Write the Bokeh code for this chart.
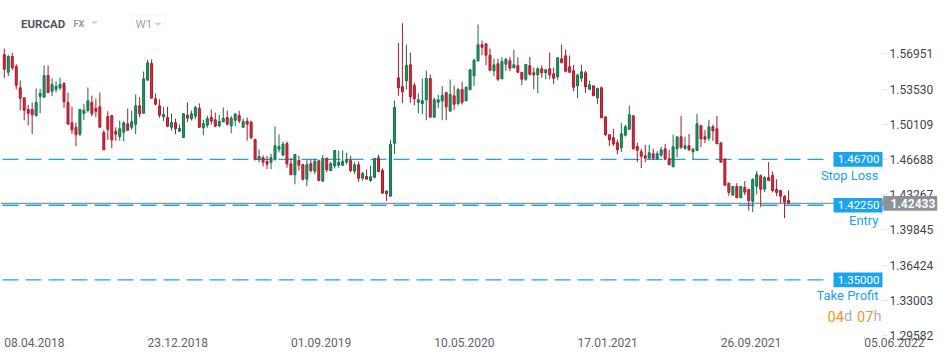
import pandas as pd
from bokeh.plotting import figure
from bokeh.models import (Range1d, FixedTicker, NumeralTickFormatter,
                          Label, ColumnDataSource, BoxAnnotation, PolyAnnotation)
from bokeh.embed import file_html
from bokeh.resources import INLINE

# ---------------- data ----------------
symbol = "EURCAD"
market = "FX"
interval = "W1"

opens = [1.5688, 1.5516, 1.5669, 1.5572, 1.5365, 1.5268, 1.5154, 1.5154, 1.5093, 1.5283,
         1.5274, 1.5484, 1.5332, 1.5351, 1.5365, 1.5407, 1.5222, 1.5025, 1.4980, 1.4915,
         1.5118, 1.5145, 1.5222, 1.5164, 1.5181, 1.4931, 1.5086, 1.5096, 1.4941, 1.4892,
         1.4934, 1.5015, 1.4982, 1.5012, 1.5190, 1.5118, 1.5439, 1.5601, 1.5258, 1.5190,
         1.5083, 1.5077, 1.4982, 1.5025, 1.4944, 1.4883, 1.5099, 1.5064, 1.5089, 1.5164,
         1.4977, 1.5002, 1.5077, 1.5054, 1.4996, 1.5035, 1.5077, 1.4996, 1.5050, 1.5096,
         1.4982, 1.5041, 1.5031, 1.4863, 1.4666, 1.4686, 1.4650, 1.4643, 1.4666, 1.4769,
         1.4711, 1.4824, 1.4627, 1.4521, 1.4659, 1.4618, 1.4478, 1.4627, 1.4556, 1.4656,
         1.4459, 1.4682, 1.4562, 1.4608, 1.4614, 1.4614, 1.4643, 1.4659, 1.4556, 1.4618,
         1.4488, 1.4504, 1.4465, 1.4497, 1.4686, 1.4562, 1.4361, 1.4313, 1.4827, 1.5462,
         1.5378, 1.5433, 1.5588, 1.5387, 1.5225, 1.5213, 1.5248, 1.5455, 1.5080, 1.5225,
         1.5239, 1.5317, 1.5138, 1.5287, 1.5213, 1.5348, 1.5239, 1.5346, 1.5482, 1.5627,
         1.5783, 1.5792, 1.5682, 1.5530, 1.5598, 1.5452, 1.5594, 1.5627, 1.5559, 1.5579,
         1.5516, 1.5448, 1.5579, 1.5511, 1.5491, 1.5549, 1.5511, 1.5549, 1.5501, 1.5472,
         1.5647, 1.5676, 1.5569, 1.5530, 1.5384, 1.5458, 1.5511, 1.5351, 1.5384, 1.5268,
         1.5365, 1.5083, 1.4909, 1.4880, 1.4831, 1.4783, 1.4905, 1.4963, 1.5093, 1.4795,
         1.4744, 1.4705, 1.4682, 1.4724, 1.4676, 1.4711, 1.4773, 1.4676, 1.4598, 1.4773,
         1.4889, 1.4779, 1.4802, 1.4744, 1.4756, 1.4996, 1.4889, 1.4876, 1.4986, 1.4967,
         1.4831, 1.4672, 1.4439, 1.4323, 1.4407, 1.4297, 1.4397, 1.4378, 1.4262, 1.4410,
         1.4511, 1.4381, 1.4494, 1.4514, 1.4378, 1.4368, 1.4310, 1.4272]

highs = [1.5747, 1.5685, 1.5705, 1.5594, 1.5436, 1.5268, 1.5200, 1.5222, 1.5358, 1.5355,
         1.5582, 1.5582, 1.5455, 1.5429, 1.5465, 1.5419, 1.5319, 1.5183, 1.5028, 1.5157,
         1.5210, 1.5368, 1.5290, 1.5261, 1.5319, 1.4957, 1.5138, 1.5096, 1.4982, 1.5047,
         1.5041, 1.5164, 1.5145, 1.5300, 1.5274, 1.5523, 1.5637, 1.5640, 1.5310, 1.5254,
         1.5181, 1.5181, 1.5115, 1.5067, 1.5009, 1.5115, 1.5222, 1.5145, 1.5190, 1.5213,
         1.5054, 1.5093, 1.5154, 1.5125, 1.5103, 1.5174, 1.5142, 1.5093, 1.5122, 1.5142,
         1.5067, 1.5077, 1.5045, 1.4870, 1.4766, 1.4708, 1.4705, 1.4724, 1.4989, 1.4912,
         1.4844, 1.4844, 1.4686, 1.4718, 1.4708, 1.4627, 1.4666, 1.4669, 1.4676, 1.4669,
         1.4711, 1.4686, 1.4647, 1.4763, 1.4756, 1.4756, 1.4737, 1.4705, 1.4643, 1.4650,
         1.4546, 1.4572, 1.4608, 1.4679, 1.4715, 1.4582, 1.4368, 1.4860, 1.5242, 1.5802,
         1.5992, 1.5785, 1.5708, 1.5416, 1.5310, 1.5455, 1.5533, 1.5494, 1.5271, 1.5297,
         1.5381, 1.5329, 1.5446, 1.5387, 1.5365, 1.5426, 1.5381, 1.5540, 1.5647, 1.5980,
         1.5824, 1.5792, 1.5747, 1.5649, 1.5649, 1.5662, 1.5656, 1.5666, 1.5737, 1.5662,
         1.5516, 1.5598, 1.5666, 1.5562, 1.5565, 1.5582, 1.5540, 1.5708, 1.5562, 1.5662,
         1.5785, 1.5737, 1.5679, 1.5588, 1.5504, 1.5588, 1.5530, 1.5433, 1.5384, 1.5368,
         1.5378, 1.5083, 1.4909, 1.4967, 1.4863, 1.5025, 1.5006, 1.5193, 1.5093, 1.4831,
         1.4773, 1.4812, 1.4812, 1.4773, 1.4750, 1.4792, 1.4821, 1.4763, 1.4909, 1.4889,
         1.5093, 1.4889, 1.4918, 1.4783, 1.5113, 1.5006, 1.4957, 1.5054, 1.5006, 1.5093,
         1.4831, 1.4682, 1.4439, 1.4407, 1.4439, 1.4407, 1.4459, 1.4378, 1.4487, 1.4556,
         1.4524, 1.4507, 1.4643, 1.4553, 1.4478, 1.4371, 1.4323, 1.4368]

lows = [1.5458, 1.5478, 1.5536, 1.5351, 1.5147, 1.5050, 1.5002, 1.4915, 1.5093, 1.5118,
        1.5274, 1.5317, 1.5283, 1.5319, 1.5339, 1.5167, 1.5012, 1.4915, 1.4798, 1.4895,
        1.5050, 1.5125, 1.5089, 1.5080, 1.4982, 1.4763, 1.4860, 1.4779, 1.4850, 1.4853,
        1.4847, 1.4953, 1.4957, 1.4915, 1.5077, 1.5118, 1.5439, 1.5264, 1.5193, 1.5074,
        1.5041, 1.4982, 1.4953, 1.4915, 1.4938, 1.4876, 1.5031, 1.5047, 1.5060, 1.4982,
        1.4905, 1.4977, 1.5006, 1.4982, 1.4982, 1.5031, 1.4999, 1.4924, 1.4996, 1.5021,
        1.4982, 1.4853, 1.4866, 1.4666, 1.4640, 1.4601, 1.4575, 1.4575, 1.4666, 1.4737,
        1.4705, 1.4589, 1.4521, 1.4429, 1.4562, 1.4465, 1.4410, 1.4543, 1.4526, 1.4459,
        1.4453, 1.4546, 1.4556, 1.4582, 1.4589, 1.4608, 1.4621, 1.4546, 1.4526, 1.4453,
        1.4463, 1.4478, 1.4453, 1.4485, 1.4550, 1.4342, 1.4265, 1.4313, 1.4724, 1.5287,
        1.5215, 1.5346, 1.5219, 1.5196, 1.5118, 1.5109, 1.5050, 1.5080, 1.5074, 1.5167,
        1.5050, 1.5050, 1.5138, 1.5151, 1.5193, 1.5203, 1.5239, 1.5346, 1.5381, 1.5620,
        1.5682, 1.5584, 1.5526, 1.5478, 1.5429, 1.5452, 1.5530, 1.5526, 1.5559, 1.5507,
        1.5390, 1.5433, 1.5482, 1.5348, 1.5313, 1.5462, 1.5448, 1.5448, 1.5400, 1.5443,
        1.5608, 1.5516, 1.5511, 1.5332, 1.5264, 1.5423, 1.5317, 1.5351, 1.5287, 1.5206,
        1.5074, 1.4899, 1.4798, 1.4798, 1.4720, 1.4740, 1.4892, 1.4957, 1.4763, 1.4643,
        1.4585, 1.4643, 1.4676, 1.4662, 1.4666, 1.4691, 1.4662, 1.4618, 1.4598, 1.4691,
        1.4773, 1.4763, 1.4754, 1.4666, 1.4756, 1.4788, 1.4827, 1.4850, 1.4850, 1.4821,
        1.4643, 1.4410, 1.4317, 1.4323, 1.4297, 1.4297, 1.4323, 1.4175, 1.4158, 1.4332,
        1.4206, 1.4355, 1.4465, 1.4349, 1.4313, 1.4245, 1.4100, 1.4240]

closes = [1.5546, 1.5669, 1.5559, 1.5390, 1.5264, 1.5147, 1.5118, 1.5103, 1.5222, 1.5310,
          1.5484, 1.5317, 1.5397, 1.5378, 1.5397, 1.5229, 1.5012, 1.4957, 1.4909, 1.5154,
          1.5145, 1.5239, 1.5113, 1.5138, 1.4982, 1.4763, 1.4963, 1.4860, 1.4915, 1.4967,
          1.5025, 1.4953, 1.5035, 1.5190, 1.5113, 1.5452, 1.5608, 1.5264, 1.5206, 1.5099,
          1.5106, 1.4992, 1.5028, 1.4967, 1.4970, 1.5113, 1.5070, 1.5113, 1.5174, 1.4982,
          1.5018, 1.5067, 1.5041, 1.4992, 1.5038, 1.5067, 1.5012, 1.5067, 1.5109, 1.5045,
          1.5038, 1.5012, 1.4883, 1.4666, 1.4698, 1.4643, 1.4624, 1.4686, 1.4802, 1.4795,
          1.4818, 1.4627, 1.4521, 1.4718, 1.4614, 1.4478, 1.4618, 1.4562, 1.4653, 1.4465,
          1.4679, 1.4569, 1.4627, 1.4756, 1.4640, 1.4650, 1.4669, 1.4562, 1.4618, 1.4488,
          1.4533, 1.4478, 1.4501, 1.4679, 1.4550, 1.4342, 1.4336, 1.4815, 1.5174, 1.5365,
          1.5326, 1.5582, 1.5278, 1.5258, 1.5248, 1.5239, 1.5455, 1.5080, 1.5248, 1.5248,
          1.5290, 1.5181, 1.5300, 1.5206, 1.5346, 1.5225, 1.5368, 1.5540, 1.5633, 1.5783,
          1.5759, 1.5682, 1.5536, 1.5588, 1.5448, 1.5620, 1.5640, 1.5555, 1.5588, 1.5516,
          1.5448, 1.5591, 1.5497, 1.5491, 1.5549, 1.5511, 1.5540, 1.5491, 1.5458, 1.5656,
          1.5608, 1.5526, 1.5516, 1.5371, 1.5487, 1.5520, 1.5375, 1.5394, 1.5287, 1.5358,
          1.5074, 1.4909, 1.4860, 1.4821, 1.4763, 1.4918, 1.4986, 1.5103, 1.4773, 1.4759,
          1.4701, 1.4682, 1.4734, 1.4682, 1.4724, 1.4763, 1.4672, 1.4618, 1.4792, 1.4889,
          1.4788, 1.4802, 1.4763, 1.4769, 1.5015, 1.4870, 1.4866, 1.4986, 1.4947, 1.4821,
          1.4643, 1.4420, 1.4349, 1.4407, 1.4297, 1.4407, 1.4352, 1.4269, 1.4475, 1.4524,
          1.4381, 1.4494, 1.4465, 1.4368, 1.4349, 1.4313, 1.4255, 1.4243]

# bar-index axis: one label every 36 weekly bars
x_tick_bars = [0, 36, 72, 108, 144, 180, 216]
x_tick_labels = ["08.04.2018", "23.12.2018", "01.09.2019", "10.05.2020",
                 "17.01.2021", "26.09.2021", "05.06.2022"]
y_ticks = [1.29582, 1.33003, 1.36424, 1.39845, 1.43267, 1.46688, 1.50109, 1.53530, 1.56951]

stop_loss = 1.46700
entry_price = 1.42250
take_profit = 1.35000
last_price = 1.42433
countdown = [("04", "num"), ("d", "unit"), ("07", "num"), ("h", "unit")]

# ---------------- layout (page pixels -> data, used only to place annotations) ----------------
FRAME_W, FRAME_H = 940, 352
PX_PER_BAR = 3.981
UNITS_PER_PX = 0.00097087
FONT = "Roboto"

x_start = -3.8 / PX_PER_BAR
x_end = x_start + FRAME_W / PX_PER_BAR
y_hi = 1.62126
y_lo = y_hi - FRAME_H * UNITS_PER_PX


def X(px):
    return x_start + px / PX_PER_BAR


def Y(py):
    return y_hi - py * UNITS_PER_PX


GREEN_FILL, GREEN_LINE = "#1f9a69", "#116f49"
RED_FILL, RED_LINE = "#e02a3c", "#a61b2a"
BLUE = "#1aa3ee"

n = len(closes)
up = [c >= o for o, c in zip(opens, closes)]
src = ColumnDataSource(dict(
    bar=list(range(n)), open=opens, high=highs, low=lows, close=closes,
    top=[max(o, c) for o, c in zip(opens, closes)],
    bottom=[min(o, c) for o, c in zip(opens, closes)],
    fill=[GREEN_FILL if u else RED_FILL for u in up],
    line=[GREEN_LINE if u else RED_LINE for u in up],
))

p = figure(frame_width=FRAME_W, frame_height=FRAME_H, y_axis_location="right",
           x_range=Range1d(x_start, x_end), y_range=Range1d(y_lo, y_hi),
           output_backend="svg", toolbar_location=None,
           min_border_left=0, min_border_top=0, min_border_right=0, min_border_bottom=0,
           background_fill_color="white", border_fill_color="white")
p.outline_line_color = None
p.grid.visible = False

# level lines (drawn under the candles)
levels = [stop_loss, entry_price, take_profit]
p.segment(x0=[X(2)] * 3, x1=[X(823)] * 3, y0=levels, y1=levels, line_color=BLUE,
          line_dash="16 7", line_width=1.4)
p.segment(x0=[X(0)], x1=[X(882)], y0=[last_price], y1=[last_price],
          line_color="#8d959b", line_width=1.4)

# candles
p.segment(x0="bar", y0="high", x1="bar", y1="low", line_color="line", line_width=1, source=src)
p.vbar(x="bar", width=0.5, top="top", bottom="bottom", fill_color="fill",
       line_color="line", line_width=1, source=src)

# axes, drawn inside the canvas at fixed positions
xa = p.xaxis[0]
xa.fixed_location = Y(335)
xa.ticker = FixedTicker(ticks=x_tick_bars)
xa.major_label_overrides = {b: lbl for b, lbl in zip(x_tick_bars, x_tick_labels)}
xa.axis_line_color = None
xa.major_tick_line_color = "#dfe2e5"
xa.major_tick_in = 0
xa.major_tick_out = 4
xa.minor_tick_line_color = None
xa.major_label_text_font = FONT
xa.major_label_text_font_size = "12px"
xa.major_label_text_color = "#5b646b"
xa.major_label_orientation = -1e-6
xa.major_label_standoff = 3

ya = p.yaxis[0]
ya.fixed_location = X(882)
ya.ticker = FixedTicker(ticks=y_ticks)
ya.formatter = NumeralTickFormatter(format="0.00000")
ya.axis_line_color = None
ya.major_tick_line_color = "#dfe2e5"
ya.major_tick_in = 0
ya.major_tick_out = 5
ya.minor_tick_line_color = None
ya.major_label_text_font = FONT
ya.major_label_text_font_size = "12px"
ya.major_label_text_color = "#3d474f"
ya.major_label_standoff = 2

# level price boxes and captions
half_h = 7.3 * UNITS_PER_PX
for lvl, caption, cap_y in ((stop_loss, "Stop Loss", 175), (entry_price, "Entry", 220),
                            (take_profit, "Take Profit", 295)):
    p.add_layout(BoxAnnotation(left=X(833), right=X(882), top=lvl + half_h, bottom=lvl - half_h,
                               fill_color=BLUE, fill_alpha=1, line_color=None))
    p.add_layout(Label(x=X(879), y=lvl, text=f"{lvl:.5f}", text_align="right",
                       text_baseline="middle", text_color="white", text_font=FONT,
                       text_font_size="11.5px"))
    p.add_layout(Label(x=X(878), y=Y(cap_y), text=caption, text_align="right",
                       text_baseline="middle", text_color=BLUE, text_font=FONT,
                       text_font_size="13px"))

# current price tag
p.add_layout(BoxAnnotation(left=X(882.7), right=X(936.7), top=last_price + half_h,
                           bottom=last_price - half_h, fill_color="#8c9398", fill_alpha=1,
                           line_color=None))
p.add_layout(PolyAnnotation(xs=[X(878.5), X(883), X(883)],
                            ys=[last_price, last_price + 3 * UNITS_PER_PX,
                                last_price - 3 * UNITS_PER_PX],
                            fill_color="#8c9398", fill_alpha=1, line_color=None))
p.add_layout(Label(x=X(890), y=last_price, text=f"{last_price:.5f}", text_align="left",
                   text_baseline="middle", text_color="white", text_font=FONT,
                   text_font_size="12px", text_font_style="bold"))

# countdown
cx = 827
for txt, kind in countdown:
    p.add_layout(Label(x=X(cx), y=Y(316), text=txt, text_align="left", text_baseline="middle",
                       text_font=FONT, text_font_size="14.5px",
                       text_color="#f7941d" if kind == "num" else "#a9b1b7"))
    cx += 16.5 if kind == "num" else 13

# header
p.add_layout(Label(x=X(20.5), y=Y(23.3), text=symbol, text_align="left", text_baseline="middle",
                   text_font=FONT, text_font_size="11.5px", text_font_style="bold",
                   text_color="#4b5660"))
p.add_layout(Label(x=X(73), y=Y(23.5), text=market, text_align="left", text_baseline="middle",
                   text_font=FONT, text_font_size="9px", text_font_style="bold",
                   text_color="#8e9ca7"))
p.add_layout(PolyAnnotation(xs=[X(90.5), X(97.5), X(94)], ys=[Y(20.7), Y(20.7), Y(23.6)],
                            fill_color="#c9cfd4", fill_alpha=1, line_color=None))
p.add_layout(BoxAnnotation(left=X(130.7), right=X(165.3), top=Y(14.7), bottom=Y(31.3),
                           fill_color="white", fill_alpha=1, line_color="#e1e4e7",
                           line_width=1, border_radius=3))
p.add_layout(Label(x=X(135), y=Y(23.3), text=interval, text_align="left", text_baseline="middle",
                   text_font=FONT, text_font_size="11.5px", text_color="#9aa4ac"))
p.add_layout(PolyAnnotation(xs=[X(154), X(161), X(157.5)], ys=[Y(22.3), Y(22.3), Y(25.2)],
                            fill_color="#c9cfd4", fill_alpha=1, line_color=None))

open("out.html", "w").write(file_html(p, INLINE))
